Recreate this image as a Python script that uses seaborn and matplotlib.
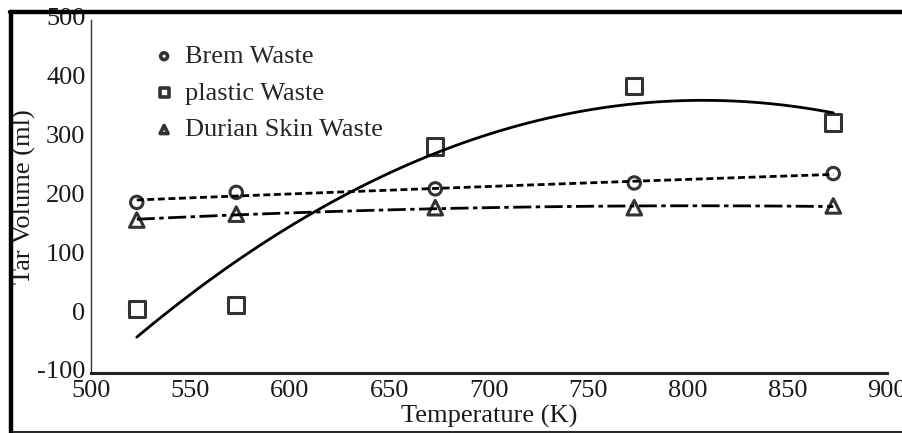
import matplotlib
matplotlib.use("Agg")
import matplotlib.pyplot as plt
from matplotlib.lines import Line2D
import matplotlib.transforms as mtransforms
import seaborn as sns
import pandas as pd

temperature = [523, 573, 673, 773, 873]
brem_waste = [190, 207, 213, 223, 239]
plastic_waste = [9, 16, 285, 388, 326]
durian_waste = [160, 170, 181, 181, 184]

series_names = ["Brem Waste", "plastic Waste", "Durian Skin Waste"]
x_ticks = [500, 550, 600, 650, 700, 750, 800, 850, 900]
y_ticks = [-100, 0, 100, 200, 300, 400, 500]

sns.set_theme(style="white")
plt.rcParams["font.family"] = ["Liberation Serif", "DejaVu Serif"]

df = pd.DataFrame({"T": temperature, "brem": brem_waste,
                   "plastic": plastic_waste, "durian": durian_waste})

fig = plt.figure(figsize=(9.02, 4.33), dpi=100)
ax = fig.add_axes([91 / 902, 1 - 373 / 433, (887 - 91) / 902, (373 - 20) / 433])

lw = 2.0
mew = 2.2
sns.regplot(data=df, x="T", y="brem", order=2, ci=None, ax=ax, marker="o",
            label=series_names[0], color="black",
            scatter_kws=dict(s=80, facecolors="none", edgecolors="black", linewidths=mew, zorder=3),
            line_kws=dict(lw=lw, linestyle=(0, (2.5, 1.3)), zorder=2))
sns.regplot(data=df, x="T", y="plastic", order=2, ci=None, ax=ax, marker="s",
            label=series_names[1], color="black",
            scatter_kws=dict(s=140, facecolors="none", edgecolors="black", linewidths=mew, zorder=3),
            line_kws=dict(lw=lw, linestyle="-", zorder=2))
sns.regplot(data=df, x="T", y="durian", order=2, ci=None, ax=ax, marker="^",
            label=series_names[2], color="black",
            scatter_kws=dict(s=110, facecolors="none", edgecolors="black", linewidths=mew, zorder=3),
            line_kws=dict(lw=lw, linestyle=(0, (6.5, 1.6, 1.6, 1.6)), zorder=2))

ax.set_xlim(500, 900)
ax.set_ylim(-100, 500)
ax.set_xticks(x_ticks)
ax.set_yticks(y_ticks)
ax.set_xticklabels([str(v) for v in x_ticks])
ax.set_yticklabels([str(v) for v in y_ticks])
ax.tick_params(axis="both", length=0, labelsize=19, colors="#1a1a1a")
ax.tick_params(axis="x", pad=5)
ax.tick_params(axis="y", pad=4)
shift = mtransforms.ScaledTranslation(0, 3 / 100, fig.dpi_scale_trans)
for lab in ax.get_yticklabels():
    lab.set_transform(lab.get_transform() + shift)
ax.set_xlabel("Temperature (K)", fontsize=19, color="#1a1a1a", labelpad=2)
ax.set_ylabel("Tar Volume (ml)", fontsize=19, color="#1a1a1a", labelpad=1)

for s in ["top", "right"]:
    ax.spines[s].set_visible(False)
ax.spines["left"].set_color("#333333")
ax.spines["left"].set_linewidth(1.0)
ax.spines["bottom"].set_color("#222222")
ax.spines["bottom"].set_linewidth(2.2)

leg = ax.legend(loc="upper left", bbox_to_anchor=(0.062, 0.96), frameon=False,
                fontsize=19, markerscale=0.55, handletextpad=0.3, labelspacing=0.5,
                borderaxespad=0, handlelength=1.0)
for h in leg.legend_handles:
    h.set_linewidths(2.6)

# outer page frame
fig.add_artist(Line2D([10 / 902, 1], [1 - 12 / 433, 1 - 12 / 433], transform=fig.transFigure,
                      color="black", lw=3.2))
fig.add_artist(Line2D([11 / 902, 11 / 902], [0, 1 - 12 / 433], transform=fig.transFigure,
                      color="black", lw=3.2))
fig.add_artist(Line2D([10 / 902, 1], [1.5 / 433, 1.5 / 433], transform=fig.transFigure,
                      color="black", lw=1.2))

fig.savefig("out.png", dpi=100)
